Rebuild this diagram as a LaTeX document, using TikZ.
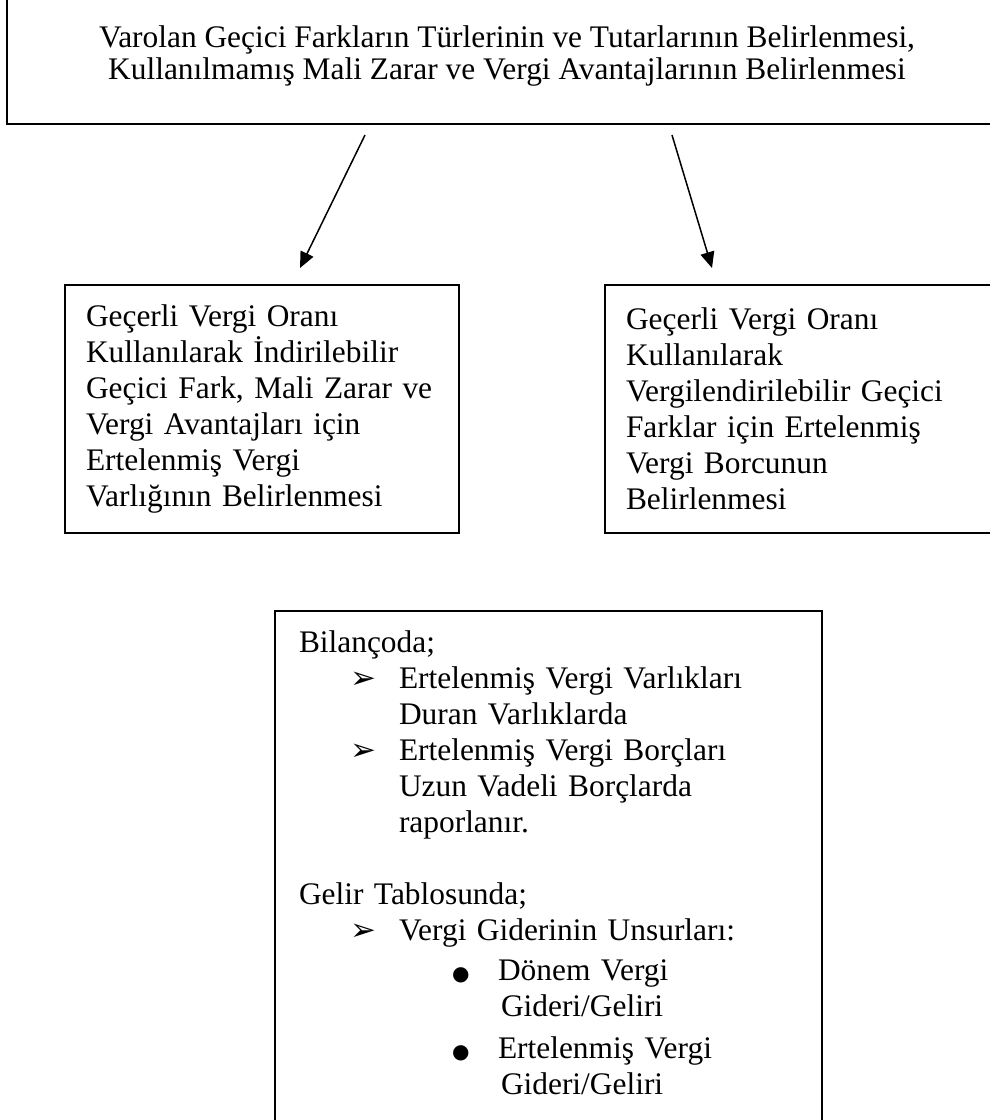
\documentclass[tikz,border=0pt]{standalone}
\usepackage{fontspec}
\setmainfont{Liberation Serif}
\newfontfamily\dingfont{DejaVu Sans}
\usetikzlibrary{arrows.meta}
\usetikzlibrary{positioning}

\newcommand{\okmadde}{\hspace*{25.5pt}\makebox[24.5pt][l]{\dingfont\fontsize{15.5}{15}\selectfont ➢}}
\newcommand{\noktamadde}{\hspace*{76.5pt}\makebox[23pt][l]{\dingfont\fontsize{10}{10}\selectfont ●}}

\begin{document}
\begin{tikzpicture}[
    x=0.5pt, y=-0.5pt,
    node distance=72pt,  % gap between the two side boxes
    panel/.style={
        rectangle,
        draw=black,
        line width=1pt,
        inner xsep=10.5pt,
        font=\fontsize{15.7}{18}\selectfont
    },
    sidebox/.style={
        panel,
        minimum width=197pt,
        minimum height=124pt,
        text width=176pt,
        align=left
    },
    myarrow/.style={
        -{Triangle[length=8pt, width=7pt]},
        line width=0.75pt,
        draw=black
    }
]

% page frame
\clip (0,0) rectangle (990,1120);

% top box
\node[panel, minimum width=500pt, minimum height=68pt, align=center,
      font=\fontsize{15.7}{16}\selectfont] (belirleme) at (507,56)
    {Varolan Geçici Farkların Türlerinin ve Tutarlarının Belirlenmesi,\\
     Kullanılmamış Mali Zarar ve Vergi Avantajlarının Belirlenmesi};

% the two side boxes
\node[sidebox, anchor=north west] (varlik) at (64,284)
    {Geçerli Vergi Oranı\\
     Kullanılarak İndirilebilir\\
     Geçici Fark, Mali Zarar ve\\
     Vergi Avantajları için\\
     Ertelenmiş Vergi\\
     Varlığının Belirlenmesi};
\node[sidebox, right=of varlik] (borc)
    {Geçerli Vergi Oranı\\
     Kullanılarak\\
     Vergilendirilebilir Geçici\\
     Farklar için Ertelenmiş\\
     Vergi Borcunun\\
     Belirlenmesi};

% bottom box, its lower edge runs off the page
\node[panel, anchor=north west, text width=249.5pt, inner xsep=12pt,
      inner ysep=9.7pt, text depth=245pt, align=left] (tablolar) at (274,610)
    {Bilançoda;\\
     \okmadde Ertelenmiş Vergi Varlıkları\\
     \hspace*{50pt}Duran Varlıklarda\\
     \okmadde Ertelenmiş Vergi Borçları\\
     \hspace*{50pt}Uzun Vadeli Borçlarda\\
     \hspace*{50pt}raporlanır.\\[18pt]
     Gelir Tablosunda;\\
     \okmadde Vergi Giderinin Unsurları:\\[2pt]
     \noktamadde Dönem Vergi\\
     \hspace*{101pt}Gideri/Geliri\\[3pt]
     \noktamadde Ertelenmiş Vergi\\
     \hspace*{101pt}Gideri/Geliri};

% arrows
\coordinate (sol1) at (365,135);
\coordinate (sol2) at (300,268);
\coordinate (sag1) at (672,135);
\coordinate (sag2) at (712,268);
\draw[myarrow] (sol1) -- (sol2);
\draw[myarrow] (sag1) -- (sag2);

\end{tikzpicture}
\end{document}
